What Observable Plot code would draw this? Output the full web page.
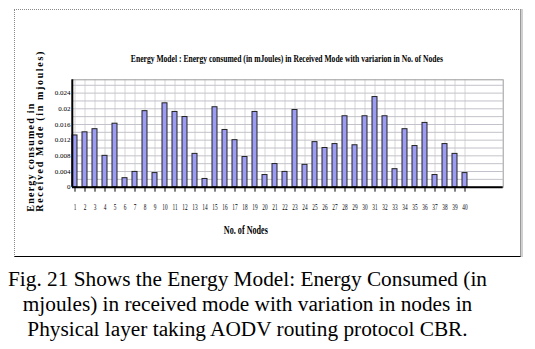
<!DOCTYPE html>
<html>
<head>
<meta charset="utf-8">
<script src="https://cdn.jsdelivr.net/npm/d3@7"></script>
<script src="https://cdn.jsdelivr.net/npm/@observablehq/plot@0.6"></script>
<style>
  body { margin: 0; background: #fff; }
  #wrap { position: relative; width: 535px; height: 349px; overflow: hidden; }
  #box { position: absolute; left: 14px; top: 9px; width: 505px; height: 246px;
         border-left: 1px dotted #888; border-top: 1px dotted #888;
         border-right: 1px solid #999; border-bottom: 1px solid #000;
         box-shadow: 2px 0 0 #d0d0d0; }
  #chart { position: absolute; left: 0; top: 0; }
  #caption { position: absolute; left: 0; top: 267.3px; width: 495px; text-align: center;
             font-family: "Liberation Serif", "Times New Roman", serif; font-size: 21.3px;
             line-height: 25px; color: #000; white-space: nowrap; }
</style>
</head>
<body>
<div id="wrap">
  <div id="box"></div>
  <div id="chart"></div>
  <div id="caption">Fig. 21 Shows the Energy Model: Energy Consumed (in<br>mjoules) in received mode with variation in nodes in<br>Physical layer taking AODV routing protocol CBR.</div>
</div>
<script>
const nodes = ["1","2","3","4","5","6","7","8","9","10","11","12","13","14","15","16","17","18","19","20",
               "21","22","23","24","25","26","27","28","29","30","31","32","33","34","35","36","37","38","39","40"];
const energy = [0.0132, 0.0140, 0.0148, 0.0080, 0.0162, 0.0023, 0.0039, 0.0194, 0.0036, 0.0214,
                0.0192, 0.0179, 0.0085, 0.0021, 0.0204, 0.0146, 0.0120, 0.0077, 0.0192, 0.0031,
                0.0059, 0.0039, 0.0197, 0.0057, 0.0115, 0.0100, 0.0110, 0.0181, 0.0107, 0.0181,
                0.0230, 0.0181, 0.0046, 0.0148, 0.0105, 0.0164, 0.0031, 0.0110, 0.0085, 0.0036];
const yTicks = [0, 0.004, 0.008, 0.012, 0.016, 0.02, 0.024];
const yTickLabels = ["0", "0.004", "0.008", "0.012", "0.016", "0.02", "0.024"];
const yGrid = [0.002, 0.004, 0.006, 0.008, 0.010, 0.012, 0.014, 0.016, 0.018, 0.020, 0.022, 0.024, 0.026];
const titleText = "Energy Model : Energy consumed (in mJoules) in Received Mode with variarion in No. of Nodes";
const xLabel = "No. of Nodes";
const yLabel1 = "Energy consumed in";
const yLabel2 = "Received Mode (in mjoules)";

const data = nodes.map((n, i) => ({node: n, energy: energy[i]}));

const chart = Plot.plot({
  width: 535,
  height: 262,
  marginLeft: 72,
  marginRight: 32.3,
  marginTop: 79.3,
  marginBottom: 75.3,
  style: {fontFamily: "'Liberation Serif', 'Times New Roman', serif", fontSize: "8px", background: "transparent", color: "#000"},
  x: {domain: nodes, paddingInner: 0.5, paddingOuter: 0.27, align: 0, label: null, tickSize: 5, tickPadding: 12},
  y: {domain: [0, 0.0274], ticks: yTicks, tickFormat: d => yTickLabels[yTicks.indexOf(d)] ?? String(d), label: null, tickSize: 0, tickPadding: 2},
  marks: [
    Plot.ruleX(nodes, {stroke: "#d6d6d6", strokeWidth: 1}),
    Plot.ruleY(yGrid, {stroke: "#c2c2ca", strokeWidth: 1}),
    Plot.frame({stroke: "#9a9a9a"}),
    Plot.barY(data, {x: "node", y: "energy", fill: "#9c9cf4", stroke: "#222", strokeWidth: 1}),
    Plot.ruleY([0], {stroke: "#000", strokeWidth: 2}),
    Plot.ruleX([nodes[0]], {dx: -2.7, stroke: "#000", strokeWidth: 2}),
    Plot.text([titleText], {text: d => d, frameAnchor: "top", dx: -1, dy: -18, lineAnchor: "bottom", fontWeight: "bold", fontSize: 10.5}),
    Plot.text([xLabel], {text: d => d, frameAnchor: "bottom", dx: -42, dy: 43.3, lineAnchor: "middle", fontWeight: "bold", fontSize: 11.5}),
    Plot.text([yLabel1], {text: d => d, frameAnchor: "bottom-left", dx: -42, dy: 24.5, rotate: -90, textAnchor: "start", lineAnchor: "middle", fontWeight: "bold", fontSize: 10}),
    Plot.text([yLabel2], {text: d => d, frameAnchor: "bottom-left", dx: -33, dy: 24.5, rotate: -90, textAnchor: "start", lineAnchor: "middle", fontWeight: "bold", fontSize: 10})
  ]
});
document.getElementById("chart").appendChild(chart);

// style adjustments
chart.querySelectorAll("text").forEach(t => {
  const txt = t.textContent;
  const holder = t.closest("[aria-label]");
  const lab = holder ? holder.getAttribute("aria-label") : "";
  if (txt === titleText) {
    t.setAttribute("textLength", 312);
    t.setAttribute("lengthAdjust", "spacingAndGlyphs");
  } else if (txt === xLabel) {
    t.setAttribute("textLength", 44);
    t.setAttribute("lengthAdjust", "spacingAndGlyphs");
  } else if (txt === yLabel1) {
    t.setAttribute("textLength", 108);
    t.setAttribute("lengthAdjust", "spacing");
  } else if (txt === yLabel2) {
    t.setAttribute("textLength", 160);
    t.setAttribute("lengthAdjust", "spacing");
  } else if (lab.includes("x-axis")) {
    t.setAttribute("transform", ((t.getAttribute("transform") || "") + " scale(0.66,1)").trim());
  } else if (lab.includes("y-axis")) {
    t.setAttribute("font-size", "7px");
  }
});
</script>
</body>
</html>
